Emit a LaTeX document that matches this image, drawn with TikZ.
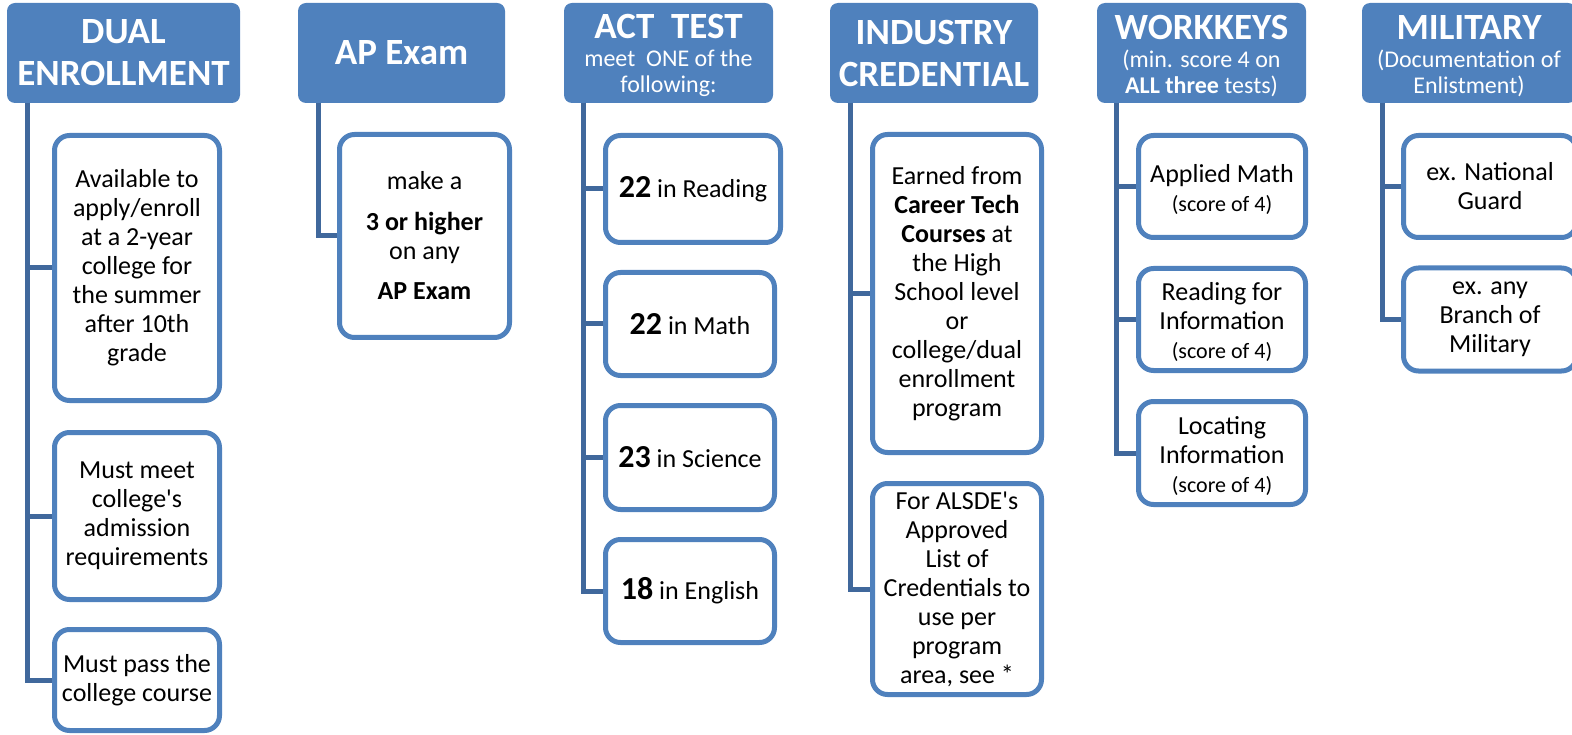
\documentclass[tikz,border=0pt]{standalone}
\usepackage{fontspec}
\setmainfont{Carlito}
\definecolor{hblue}{RGB}{79,129,189}
\definecolor{cblue}{RGB}{64,104,156}
\begin{document}
\begin{tikzpicture}[x=1pt,y=-1pt,
  head/.style={fill=hblue, draw=none, rounded corners=8pt, text=white, align=center, inner sep=0pt},
  htitle/.style={head, font=\fontsize{37}{42}\selectfont\bfseries},
  hsub/.style={head, font=\fontsize{24}{26}\selectfont},
  box/.style={draw=hblue, line width=5pt, fill=white, rounded corners=15pt, align=center, inner sep=0pt, font=\fontsize{26}{29}\selectfont},
  conn/.style={draw=cblue, line width=5pt}
]
\useasboundingbox (0,0) rectangle (1572,735);
\newcommand{\smallsc}{\fontsize{22}{24}\selectfont}
\newcommand{\bignum}[1]{{\fontsize{32}{32}\selectfont\bfseries #1}}
\newcommand{\apos}{\textquotesingle}
\newcommand{\htl}[1]{{\fontsize{37}{37}\selectfont\bfseries\rule{0pt}{30pt}#1}}

% headers
\node[htitle, minimum width=233, minimum height=100] (hdual) at (123.5,53) {DUAL\\ENROLLMENT};
\node[htitle, minimum width=207, minimum height=100] (hap) at (401.5,53) {AP Exam};
\node[hsub, minimum width=209, minimum height=100] (hact) at (668.5,53) {\htl{ACT~~TEST}\\[2pt]meet~~ONE of the\\following:};
\node[htitle, minimum width=208, minimum height=100] (hind) at (934,53) {INDUSTRY\\CREDENTIAL};
\node[hsub, minimum width=209, minimum height=100] (hwk) at (1201.5,53) {\htl{WORKKEYS}\\[2pt](min. score 4 on\\\textbf{ALL three} tests)};
\node[hsub, minimum width=214, minimum height=100] (hmil) at (1469,53) {\htl{MILITARY}\\[2pt](Documentation of\\Enlistment)};

% dual enrollment
\node[box, minimum width=165, minimum height=265] (d1) at (137,268) {Available to\\apply/enroll\\at a 2-year\\college for\\the summer\\after 10th\\grade};
\node[box, minimum width=165, minimum height=167] (d2) at (137,516) {Must meet\\college\apos s\\admission\\requirements};
\node[box, minimum width=165, minimum height=101] (d3) at (137,680) {Must pass the\\college course};
\coordinate (dualtop) at (27,103);
\draw[conn] (dualtop) |- (d3.west);
\draw[conn] (dualtop) |- (d1.west);
\draw[conn] (dualtop) |- (d2.west);

% AP
\node[box, minimum width=170, minimum height=203] (a1) at (424.5,236) {make a\\[12pt]\textbf{3 or higher}\\on any\\[11pt]\textbf{AP Exam}};
\coordinate (aptop) at (318,103);
\draw[conn] (aptop) |- (a1.west);

% ACT
\node[box, minimum width=175, minimum height=107] (c1) at (693,189) {\bignum{22} in Reading};
\node[box, minimum width=169, minimum height=103] (c2) at (690,324) {\bignum{22} in Math};
\node[box, minimum width=169, minimum height=104] (c3) at (690,457.5) {\bignum{23} in Science};
\node[box, minimum width=169, minimum height=103] (c4) at (690,591) {\bignum{18} in English};
\coordinate (acttop) at (583,103);
\draw[conn] (acttop) |- (c4.west);
\draw[conn] (acttop) |- (c1.west);
\draw[conn] (acttop) |- (c2.west);
\draw[conn] (acttop) |- (c3.west);

% industry
\node[box, minimum width=169, minimum height=318] (i1) at (957,293.5) {Earned from\\\textbf{Career Tech}\\\textbf{Courses} at\\the High\\School level\\or\\college/dual\\enrollment\\program};
\node[box, minimum width=169, minimum height=211] (i2) at (957,589) {For ALSDE\apos s\\Approved\\List of\\Credentials to\\use per\\program\\area, see *};
\coordinate (indtop) at (850,103);
\draw[conn] (indtop) |- (i2.west);
\draw[conn] (indtop) |- (i1.west);

% workkeys
\node[box, minimum width=167, minimum height=102] (w1) at (1222,186.5) {\rule{0pt}{24pt}Applied Math\\{\smallsc (score of 4)}};
\node[box, minimum width=167, minimum height=102] (w2) at (1222,319.5) {\rule{0pt}{24pt}Reading for\\Information\\{\smallsc (score of 4)}};
\node[box, minimum width=167, minimum height=103] (w3) at (1222,453) {\rule{0pt}{24pt}Locating\\Information\\{\smallsc (score of 4)}};
\coordinate (wktop) at (1116,103);
\draw[conn] (wktop) |- (w3.west);
\draw[conn] (wktop) |- (w1.west);
\draw[conn] (wktop) |- (w2.west);

% military
\node[box, minimum width=173, minimum height=102] (m1) at (1490,186.5) {ex. National\\Guard};
\node[box, minimum width=173, minimum height=103] (m2) at (1490,319.5) {ex. any\\Branch of\\Military};
\coordinate (miltop) at (1382,103);
\draw[conn] (miltop) |- (m2.west);
\draw[conn] (miltop) |- (m1.west);
\end{tikzpicture}
\end{document}
